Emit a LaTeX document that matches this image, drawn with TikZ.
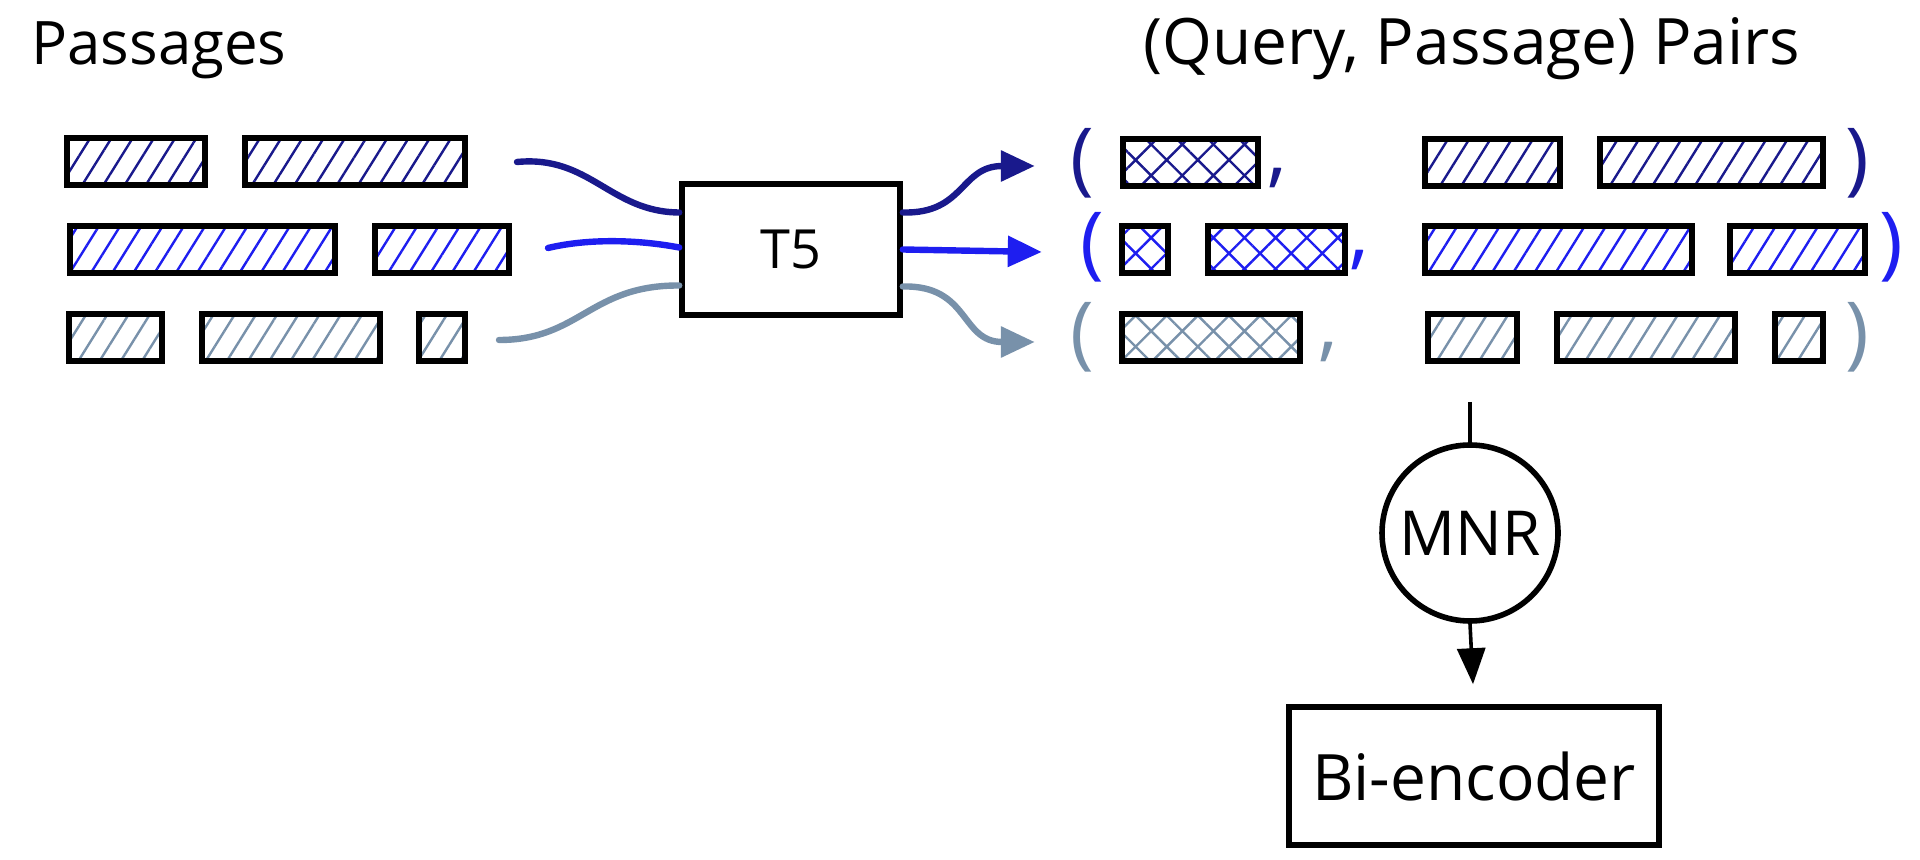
\documentclass[tikz,border=0pt]{standalone}
\usepackage{fontspec}
\setmainfont{Open Sans}
\usetikzlibrary{arrows.meta,patterns.meta,calc}
\definecolor{navy}{RGB}{25,25,140}
\definecolor{brightblue}{RGB}{30,30,240}
\definecolor{slate}{RGB}{120,145,170}
\tikzset{
  pbox/.style={draw,line width=3pt,minimum height=23.5pt,inner sep=0pt,
    pattern={Lines[angle=58,distance=9pt,line width=1.2pt]}},
  qbox/.style={draw,line width=3pt,minimum height=23.5pt,inner sep=0pt,
    pattern={Hatch[angle=45,distance=11pt,line width=1.2pt]}},
  title/.style={font=\fontsize{30}{36}\selectfont,anchor=base},
  paren/.style={font=\fontsize{40}{46}\selectfont,inner sep=0pt},
  block/.style={draw,line width=2.8pt,font=\fontsize{31}{36}\selectfont},
  flow/.style={line width=3.2pt,line cap=round},
  flowtip/.style={-{Triangle[length=17pt,width=15pt]}}
}
\begin{document}
\begin{tikzpicture}[x=0.5pt,y=-0.5pt]
  \useasboundingbox (0,0) rectangle (1920,860);
  \node[title] (passtitle) at (159,65) {Passages};
  \node[title,font=\fontsize{32}{38}\selectfont] (pairtitle) at (1472,65) {(Query, Passage) Pairs};
  % passages on the left
  \foreach \n/\cx/\cy/\w/\col in {sa1/136/162/138/navy,sa2/355/162/220/navy,
      sb1/202/250/265/brightblue,sb2/442/250/134/brightblue,
      sc1/115/338/93/slate,sc2/291/338/178/slate,sc3/442/338/46/slate}
    \node[pbox,pattern color=\col,minimum width=\w*0.5pt] (\n) at (\cx,\cy) {};
  % generated queries
  \foreach \n/\cx/\cy/\w/\col in {qa1/1190/163/135/navy,
      qb1/1145/250/46/brightblue,qb2/1276/250/137/brightblue,
      qc1/1211/338/178/slate}
    \node[qbox,pattern color=\col,minimum width=\w*0.5pt] (\n) at (\cx,\cy) {};
  % passages in the pairs
  \foreach \n/\cx/\cy/\w/\col in {ta1/1492/163/135/navy,ta2/1711/163/223/navy,
      tb1/1558/250/267/brightblue,tb2/1797/250/135/brightblue,
      tc1/1472/338/89/slate,tc2/1646/338/178/slate,tc3/1799/338/48/slate}
    \node[pbox,pattern color=\col,minimum width=\w*0.5pt] (\n) at (\cx,\cy) {};
  \foreach \n/\x/\y/\s/\col in {la/1082/163/(/navy,ra/1857/163/)/navy,
      lb/1092/247/(/brightblue,rb/1891/247/)/brightblue,
      lc/1082/337/(/slate,rc/1857/337/)/slate,
      ca/1277/178/{,}/navy,cb/1359/260/{,}/brightblue,cc/1328/352/{,}/slate}
    \node[paren,text=\col] (\n) at (\x,\y) {\s};
  \node[block,minimum width=109pt,minimum height=65.5pt,
    font=\fontsize{27}{32}\selectfont] (t5) at (791,249.5) {T5};
  \draw[flow,navy] ($(sa2.east)+(49,0)$) .. controls (590,155) and (610,212) .. ($(t5.west)+(0,-37)$);
  \draw[flow,brightblue] ($(sb2.east)+(36,-2)$) .. controls (590,238) and (640,240) .. ($(t5.west)+(0,-2)$);
  \draw[flow,slate] ($(sc3.east)+(31,2)$) .. controls (580,340) and (590,285) .. ($(t5.west)+(0,36)$);
  \draw[flow,flowtip,navy] ($(t5.east)+(0,-37)$) .. controls (965,214) and (960,166) .. ($(la.west)+(-35,3)$);
  \draw[flow,flowtip,brightblue] ($(t5.east)+(0,0)$) -- ($(lb.west)+(-38,5)$);
  \draw[flow,flowtip,slate] ($(t5.east)+(0,37)$) .. controls (970,285) and (960,342) .. ($(lc.west)+(-35,5)$);
  % training
  \node[block,circle,minimum size=88pt,inner sep=0pt] (mnr) at (1470,533) {MNR};
  \node[block,minimum width=185pt,minimum height=69pt,font=\fontsize{32}{38}\selectfont] (bienc) at (1474,776) {Bi-encoder};
  \coordinate (pairout) at (1470,402);
  \draw[line width=1.8pt] (pairout) -- (mnr.north);
  \draw[line width=1.8pt,-{Triangle[length=18pt,width=14pt]},shorten >=10pt] (mnr.south) -- (bienc.north);
\end{tikzpicture}
\end{document}
